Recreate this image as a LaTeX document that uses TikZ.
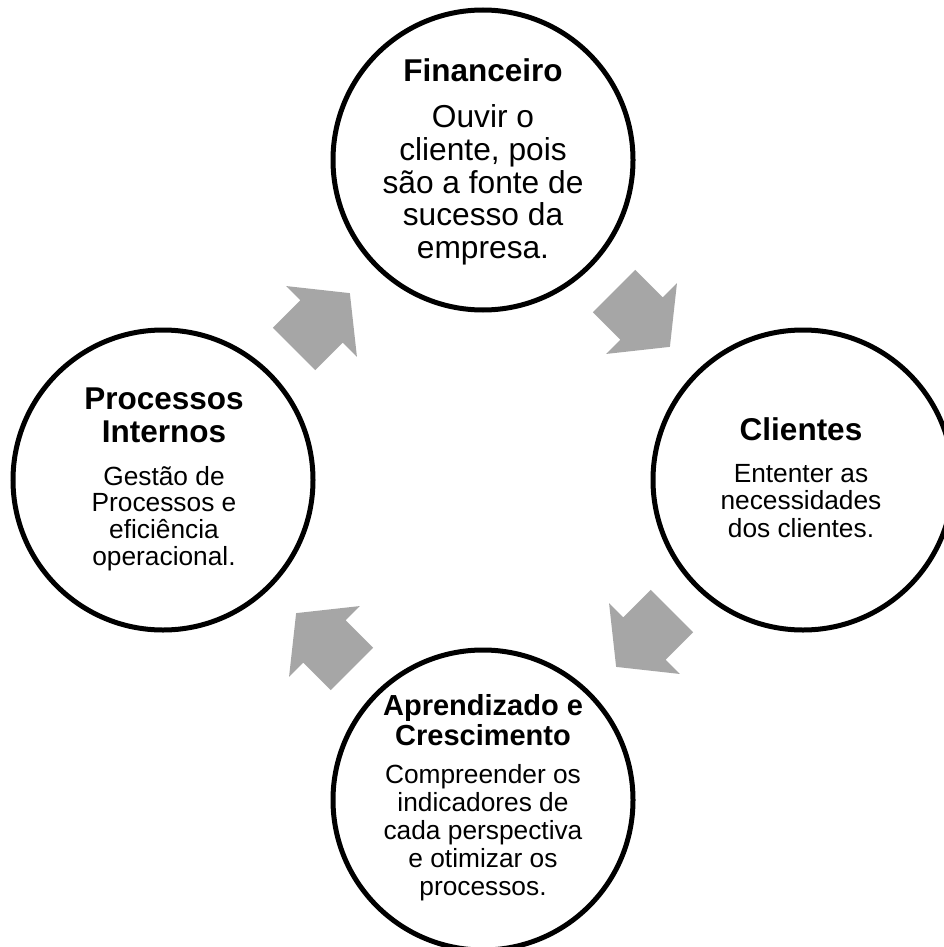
\documentclass[tikz,border=0pt]{standalone}
\usepackage{fontspec}
\setmainfont{Liberation Sans}
\usetikzlibrary{calc}
\definecolor{arrowgray}{RGB}{166,166,166}
\begin{document}
\begin{tikzpicture}[x=1pt,y=-1pt,
  ring/.style={circle, draw=black, line width=5pt, fill=white,
    minimum size=300pt, inner sep=0pt},
  ttlA/.style={font=\fontsize{31.5}{33}\selectfont\bfseries, inner sep=0pt, anchor=base},
  ttlB/.style={font=\fontsize{29}{30}\selectfont\bfseries, inner sep=0pt, anchor=base},
  bodyA/.style={font=\fontsize{31.7}{32.5}\selectfont, inner sep=0pt, anchor=base},
  bodyB/.style={font=\fontsize{26.3}{28}\selectfont, inner sep=0pt, anchor=base},
  blockarrow/.pic={
    \fill[arrowgray] (-41,-30) -- (-2,-30) -- (-2,-50) -- (38,0)
      -- (-2,50) -- (-2,30) -- (-41,30) -- cycle;
  }
]
% page
\fill[white] (0,0) rectangle (944,947);
\useasboundingbox (0,0) rectangle (944,947);

% the four perspectives
\node[ring] (fin) at (483,160) {};
\node[ring] (cli) at (803,480) {};
\node[ring] (apr) at (483,800) {};
\node[ring] (pro) at (163,480) {};

% Financeiro
\node[ttlA]  (fin-t)  at (483,82)    {Financeiro};
\node[bodyA] (fin-1)  at (483,128)   {Ouvir o};
\node[bodyA] (fin-2)  at (483,160.5) {cliente, pois};
\node[bodyA] (fin-3)  at (483,193)   {são a fonte de};
\node[bodyA] (fin-4)  at (483,225.5) {sucesso da};
\node[bodyA] (fin-5)  at (483,258)   {empresa.};

% Clientes
\node[ttlA]  (cli-t)  at (801,440)   {Clientes};
\node[bodyB] (cli-1)  at (801,482)   {Ententer as};
\node[bodyB] (cli-2)  at (801,509.5) {necessidades};
\node[bodyB] (cli-3)  at (801,537)   {dos clientes.};

% Aprendizado e Crescimento
\node[ttlB]  (apr-t1) at (483,715)   {Aprendizado e};
\node[ttlB]  (apr-t2) at (483,745)   {Crescimento};
\node[bodyB] (apr-1)  at (483,783.3) {Compreender os};
\node[bodyB] (apr-2)  at (483,811.3) {indicadores de};
\node[bodyB] (apr-3)  at (483,839.3) {cada perspectiva};
\node[bodyB] (apr-4)  at (483,867.3) {e otimizar os};
\node[bodyB] (apr-5)  at (483,895)   {processos.};

% Processos Internos
\node[ttlA]  (pro-t1) at (164,409.3) {Processos};
\node[ttlA]  (pro-t2) at (164,442.7) {Internos};
\node[bodyB] (pro-1)  at (164,485)   {Gestão de};
\node[bodyB] (pro-2)  at (164,511.7) {Processos e};
\node[bodyB] (pro-3)  at (164,538.3) {eficiência};
\node[bodyB] (pro-4)  at (164,565)   {operacional.};

% clockwise cycle arrows, halfway between neighbouring circles
\coordinate (a1) at ($(fin)!0.5!(cli)$);
\coordinate (a2) at ($(cli)!0.5!(apr)$);
\coordinate (a3) at ($(apr)!0.5!(pro)$);
\coordinate (a4) at ($(pro)!0.5!(fin)$);
\pic[rotate=-45]  at (a1) {blockarrow};
\pic[rotate=-135] at (a2) {blockarrow};
\pic[rotate=135]  at (a3) {blockarrow};
\pic[rotate=45]   at (a4) {blockarrow};
\end{tikzpicture}
\end{document}
